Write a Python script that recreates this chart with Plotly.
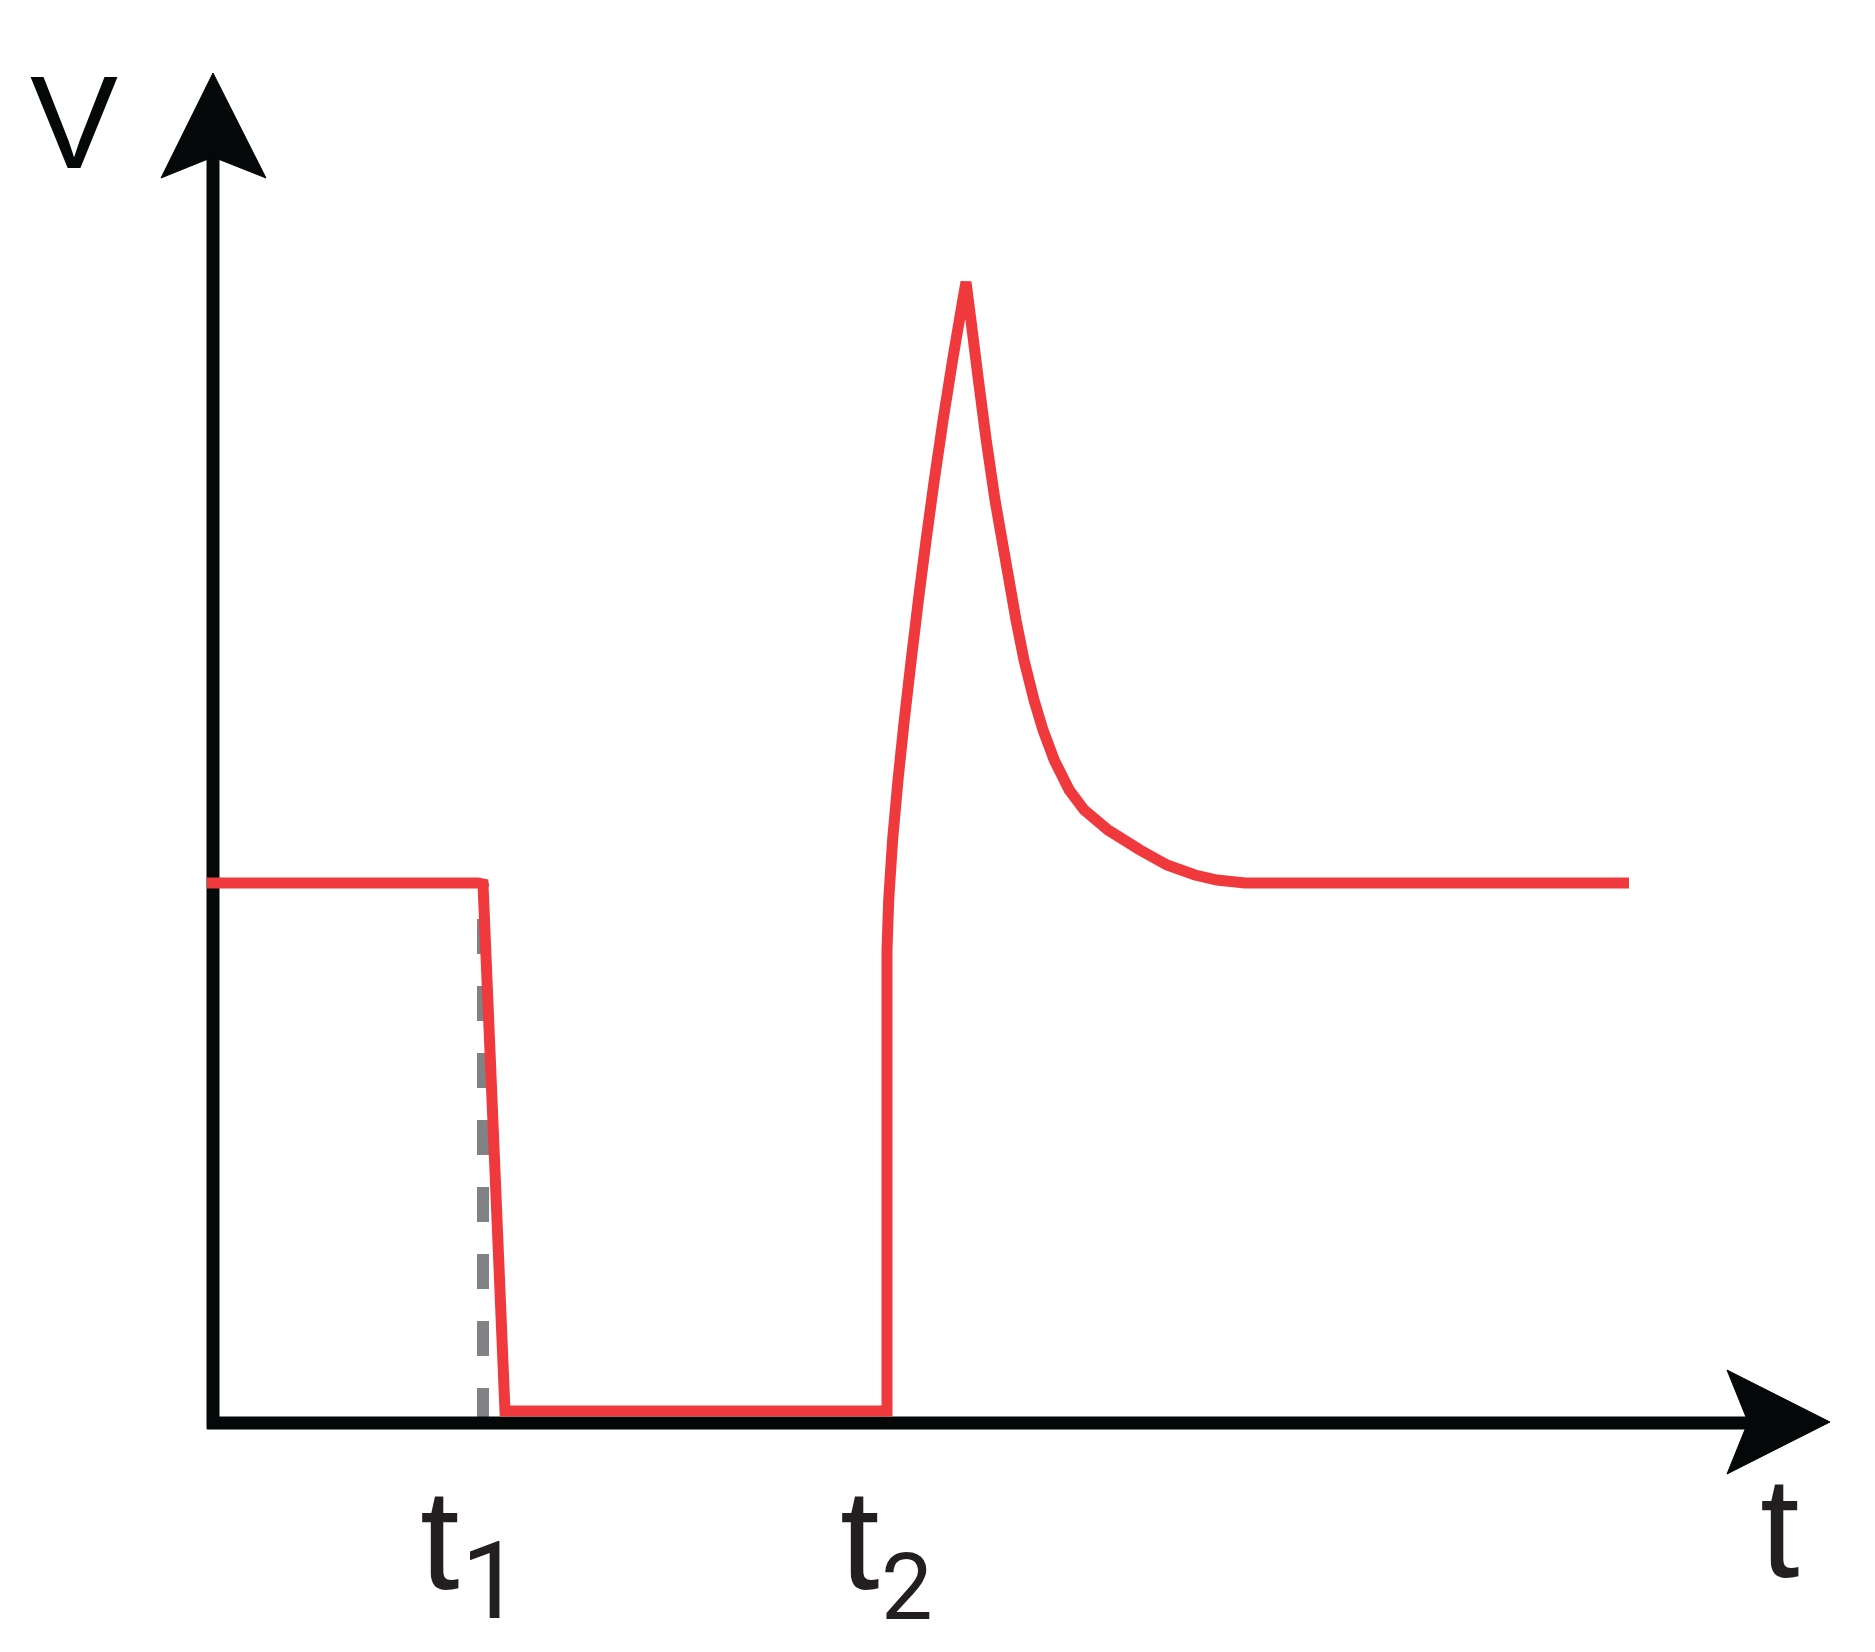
import plotly.graph_objects as go

# pulse response sketch, values in arbitrary units (t, V)
# level, fall at t1, low level, jump at t2, overshoot peak, decay back to the level
t_pulse = [-0.06, 2.65, 2.70, 2.92, 6.74, 6.74,
           6.757, 6.796, 6.85, 6.913, 6.982, 7.054, 7.131, 7.213, 7.301, 7.396, 7.498,
           7.53,
           7.579, 7.654, 7.732, 7.82, 7.925, 8.03, 8.11, 8.21, 8.30, 8.412, 8.562,
           8.712, 8.95, 9.27, 9.54, 9.82, 10.04, 10.32, 14.16]
v_pulse = [5.40, 5.40, 5.39, 0.12, 0.12, 4.73,
           5.23, 5.83, 6.43, 7.03, 7.63, 8.23, 8.83, 9.43, 10.03, 10.63, 11.23,
           11.41,
           11.03, 10.43, 9.83, 9.23, 8.63, 8.03, 7.63, 7.23, 6.93, 6.63, 6.33,
           6.13, 5.93, 5.73, 5.58, 5.48, 5.43, 5.40, 5.40]

t1 = 2.70
t2 = 6.74
v_level = 5.40

# axes and arrow heads
yaxis_t = [0, 0]
yaxis_v = [-0.06, 12.70]
xaxis_t = [-0.06, 15.40]
xaxis_v = [0, 0]
yhead_t = [0, -0.52, 0, 0.53, 0]
yhead_v = [13.50, 12.45, 12.66, 12.45, 13.50]
xhead_t = [16.17, 15.14, 15.35, 15.14, 16.17]
xhead_v = [0.01, 0.53, 0.01, -0.51, 0.01]

RED = "#EF393C"
BLACK = "#050808"
GREY = "#808285"
TXT = "#231F20"

fig = go.Figure()

# dashed guide at t1
fig.add_trace(go.Scatter(x=[t1, t1], y=[0, v_level], mode="lines",
                         line=dict(color=GREY, width=12, dash="35px,32px")))

fig.add_trace(go.Scatter(x=yaxis_t, y=yaxis_v, mode="lines", line=dict(color=BLACK, width=13)))
fig.add_trace(go.Scatter(x=xaxis_t, y=xaxis_v, mode="lines", line=dict(color=BLACK, width=13)))
fig.add_trace(go.Scatter(x=yhead_t, y=yhead_v, mode="lines", fill="toself",
                         fillcolor=BLACK, line=dict(color=BLACK, width=1)))
fig.add_trace(go.Scatter(x=xhead_t, y=xhead_v, mode="lines", fill="toself",
                         fillcolor=BLACK, line=dict(color=BLACK, width=1)))

fig.add_trace(go.Scatter(x=t_pulse, y=v_pulse, mode="lines",
                         line=dict(color=RED, width=11, simplify=False)))

lat = "Liberation Sans, Arial, sans-serif"
rob = "Roboto, Liberation Sans, sans-serif"

def label(x, y, text, size, family, color=TXT):
    fig.add_annotation(x=x, y=y, xref="x", yref="y", text=text, showarrow=False,
                       xanchor="center", yanchor="middle",
                       font=dict(family=family, size=size, color=color))

label(-1.39, 13.01, "V", 132, lat, BLACK)
label(15.66, -1.04, "t", 142, lat)
label(2.26, -1.16, "t", 142, lat)
label(2.78, -1.58, "1", 108, rob)
label(6.46, -1.16, "t", 142, lat)
label(6.94, -1.64, "2", 92, rob)

fig.update_layout(
    width=1875, height=1652,
    margin=dict(l=0, r=0, t=0, b=0),
    paper_bgcolor="white", plot_bgcolor="white",
    showlegend=False,
    xaxis=dict(range=[-2.13, 16.62], visible=False, fixedrange=True),
    yaxis=dict(range=[-2.29, 14.23], visible=False, fixedrange=True),
)

fig.write_html("out.html", config={"displayModeBar": False},
               post_script="document.body.style.margin='0';document.body.style.overflow='hidden';")
